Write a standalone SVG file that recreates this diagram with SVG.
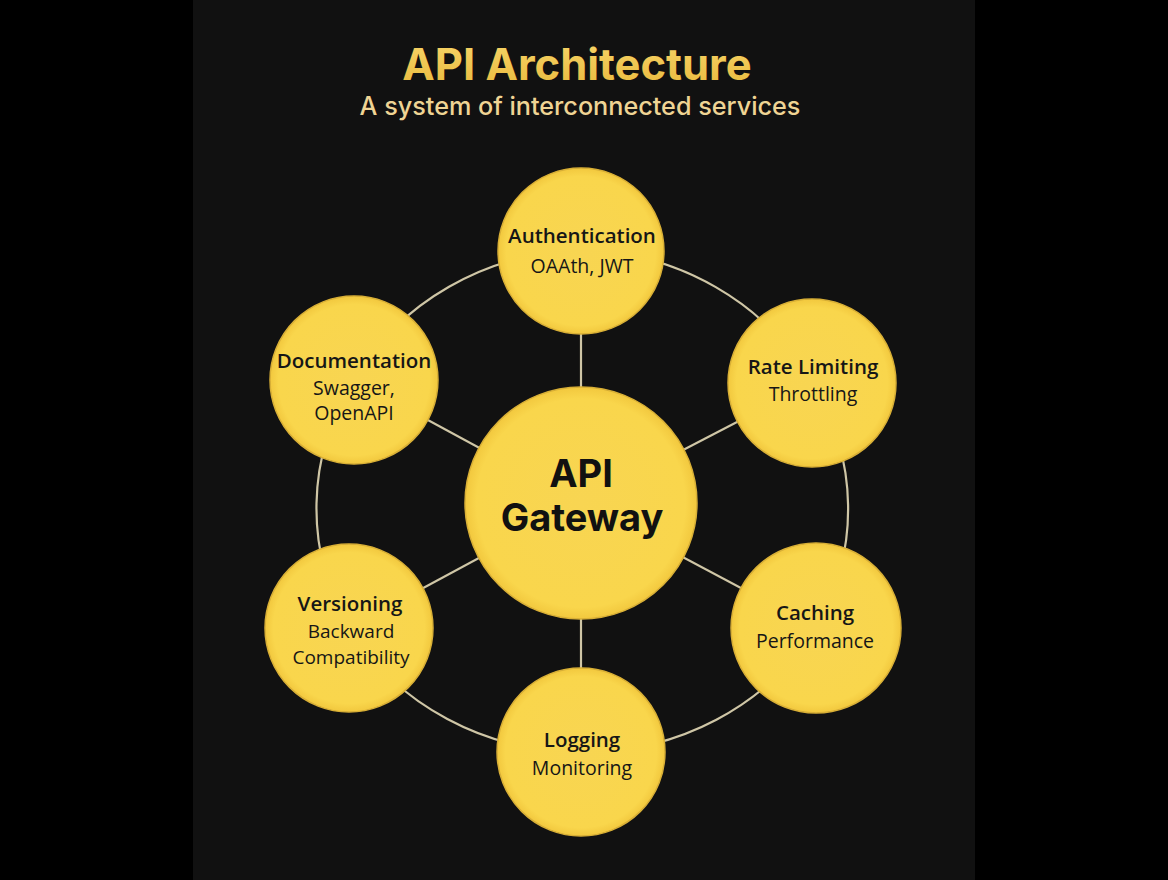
<svg xmlns="http://www.w3.org/2000/svg" width="1168" height="880" viewBox="0 0 1168 880">
  <defs>
    <linearGradient id="titleGrad" x1="0" y1="0" x2="0" y2="1">
      <stop offset="0" stop-color="#f7d56a"/>
      <stop offset="1" stop-color="#e9b93c"/>
    </linearGradient>
    <radialGradient id="nodeGrad" cx="0.5" cy="0.5" r="0.5">
      <stop offset="0" stop-color="#f8d552"/>
      <stop offset="0.9" stop-color="#f9d64c"/>
      <stop offset="1" stop-color="#f2c83e"/>
    </radialGradient>
  </defs>
  <style>
    .node circle { fill: url(#nodeGrad); stroke: #d8af36; stroke-width: 1.5; }
    .t { font-family: "Open Sans", "Noto Sans", sans-serif; font-weight: 600; font-size: 20.5px; fill: #161616; text-anchor: middle; }
    .s { font-family: "Open Sans", "Noto Sans", sans-serif; font-weight: 400; font-size: 19.5px; fill: #161616; text-anchor: middle; }
    .s2 { font-size: 19px; }
    .g { font-family: Inter, "Liberation Sans", sans-serif; font-weight: 700; font-size: 38px; fill: #111; text-anchor: middle; }
    .conn { fill: none; stroke: #cfc6a6; stroke-width: 2.2; }
  </style>

  <rect x="0" y="0" width="1168" height="880" fill="#000"/>
  <rect x="193" y="0" width="782" height="880" fill="#111111"/>

  <g id="title">
    <text x="577" y="80" font-family="Inter, 'Liberation Sans', sans-serif" font-weight="700" font-size="43.5" fill="url(#titleGrad)" text-anchor="middle">API Architecture</text>
    <text x="580" y="115" font-family="Inter, 'Liberation Sans', sans-serif" font-weight="500" font-size="25.2" fill="#efd494" text-anchor="middle">A system of interconnected services</text>
  </g>

  <g id="connectors" class="conn">
    <path d="M581 250 A268 251 0 0 1 812 383"/>
    <path d="M812 383 A268 251 0 0 1 816 628"/>
    <path d="M816 628 A268 251 0 0 1 581 752"/>
    <path d="M581 752 A268 251 0 0 1 349 628"/>
    <path d="M349 628 A268 251 0 0 1 354 380"/>
    <path d="M354 380 A268 251 0 0 1 581 250"/>
    <line x1="581" y1="503" x2="581" y2="250"/>
    <line x1="581" y1="503" x2="812" y2="383"/>
    <line x1="581" y1="503" x2="816" y2="628"/>
    <line x1="581" y1="503" x2="581" y2="752"/>
    <line x1="581" y1="503" x2="349" y2="628"/>
    <line x1="581" y1="503" x2="354" y2="380"/>
  </g>

  <g id="gateway" class="node">
    <circle cx="581" cy="503" r="116"/>
    <text class="g" x="581" y="487">API</text>
    <text class="g" x="582" y="531">Gateway</text>
  </g>

  <g id="authentication" class="node">
    <circle cx="581" cy="251" r="83"/>
    <text class="t" x="582" y="243">Authentication</text>
    <text class="s" x="582" y="273">OAAth, JWT</text>
  </g>

  <g id="rate-limiting" class="node">
    <circle cx="812" cy="383" r="84"/>
    <text class="t" x="813" y="374">Rate Limiting</text>
    <text class="s" x="813" y="401">Throttling</text>
  </g>

  <g id="caching" class="node">
    <circle cx="816" cy="628" r="85"/>
    <text class="t" x="815" y="620">Caching</text>
    <text class="s" x="815" y="648">Performance</text>
  </g>

  <g id="logging" class="node">
    <circle cx="581" cy="752" r="84"/>
    <text class="t" x="582" y="747">Logging</text>
    <text class="s" x="582" y="775">Monitoring</text>
  </g>

  <g id="versioning" class="node">
    <circle cx="349" cy="628" r="84"/>
    <text class="t" x="350" y="611">Versioning</text>
    <text class="s s2" x="351" y="638">Backward</text>
    <text class="s s2" x="351" y="664">Compatibility</text>
  </g>

  <g id="documentation" class="node">
    <circle cx="354" cy="380" r="84"/>
    <text class="t" x="354" y="368">Documentation</text>
    <text class="s" x="354" y="395">Swagger,</text>
    <text class="s" x="354" y="420">OpenAPI</text>
  </g>
</svg>
